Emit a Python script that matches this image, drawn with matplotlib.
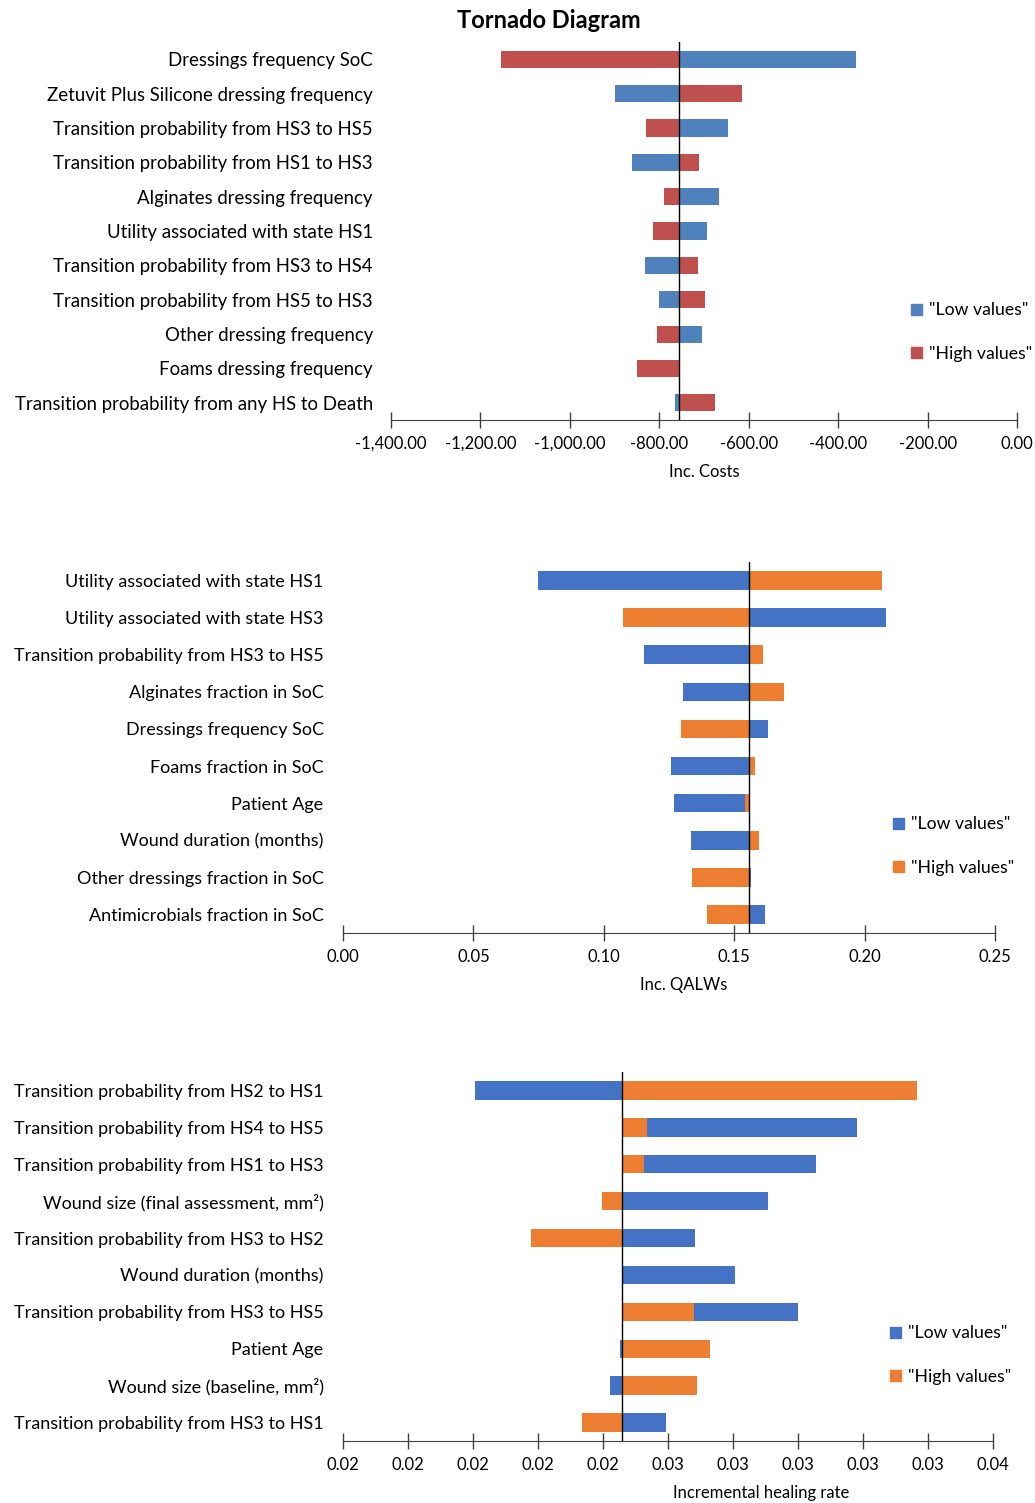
import numpy as np
import matplotlib.pyplot as plt
from matplotlib.ticker import FuncFormatter
from matplotlib.patches import Patch

plt.rcParams['font.family'] = ['Lato', 'DejaVu Sans']

# panel 1: incremental costs
cost_labels = ["Dressings frequency SoC", "Zetuvit Plus Silicone dressing frequency",
               "Transition probability from HS3 to HS5", "Transition probability from HS1 to HS3",
               "Alginates dressing frequency", "Utility associated with state HS1",
               "Transition probability from HS3 to HS4", "Transition probability from HS5 to HS3",
               "Other dressing frequency", "Foams dressing frequency",
               "Transition probability from any HS to Death"]
cost_base = -756.0
cost_low = [-360, -900, -647, -860, -667, -693, -832, -800, -705, -756, -764]
cost_high = [-1154, -616, -829, -711, -790, -814, -714, -698, -804, -850, -676]
cost_ticks = [-1400, -1200, -1000, -800, -600, -400, -200, 0]

# panel 2: incremental QALWs
qalw_labels = ["Utility associated with state HS1", "Utility associated with state HS3",
               "Transition probability from HS3 to HS5", "Alginates fraction in SoC",
               "Dressings frequency SoC", "Foams fraction in SoC", "Patient Age",
               "Wound duration (months)", "Other dressings fraction in SoC",
               "Antimicrobials fraction in SoC"]
qalw_base = 0.1557
qalw_low = [0.0748, 0.2083, 0.1154, 0.1303, 0.1630, 0.1258, 0.1270, 0.1335, 0.1566, 0.1620]
qalw_high = [0.2066, 0.1073, 0.1609, 0.1690, 0.1297, 0.1578, 0.1542, 0.1595, 0.1337, 0.1396]
qalw_ticks = [0.0, 0.05, 0.10, 0.15, 0.20, 0.25]

# panel 3: incremental healing rate
heal_labels = ["Transition probability from HS2 to HS1", "Transition probability from HS4 to HS5",
               "Transition probability from HS1 to HS3", "Wound size (final assessment, mm²)",
               "Transition probability from HS3 to HS2", "Wound duration (months)",
               "Transition probability from HS3 to HS5", "Patient Age",
               "Wound size (baseline, mm²)", "Transition probability from HS3 to HS1"]
heal_base = 0.02457
heal_low = [0.02006, 0.03180, 0.03055, 0.02907, 0.02684, 0.02806, 0.03001, 0.02453, 0.02423, 0.02594]
heal_high = [0.03365, 0.02536, 0.02526, 0.02398, 0.02177, 0.02457, 0.02679, 0.02729, 0.02688, 0.02334]
heal_ticks = [0.016, 0.018, 0.020, 0.022, 0.024, 0.026, 0.028, 0.030, 0.032, 0.034, 0.036]

W, H = 1035, 1503
fig = plt.figure(figsize=(W / 100, H / 100), dpi=100)
fig.patch.set_facecolor('white')


def tornado(rect, labels, base, low, high, ticks, fmt, xlabel, xlab_x, c_low, c_high, leg_xy,
            ypad, ysize):
    l, t, r, b = rect
    ax = fig.add_axes([l / W, 1 - b / H, (r - l) / W, (b - t) / H])
    n = len(labels)
    y = np.arange(n)
    low = np.array(low)
    high = np.array(high)
    ax.barh(y, low - base, left=base, height=0.5, color=c_low, edgecolor='none')
    ax.barh(y, high - base, left=base, height=0.5, color=c_high, edgecolor='none')
    ax.axvline(base, color='black', lw=1)
    ax.set_ylim(n - 0.5, -0.5)
    ax.set_xlim(ticks[0], ticks[-1])
    ax.set_yticks(y)
    ax.set_yticklabels(labels, fontsize=ysize)
    ax.tick_params(axis='y', length=0, pad=ypad)
    ax.set_xticks(ticks)
    ax.xaxis.set_major_formatter(FuncFormatter(fmt))
    ax.tick_params(axis='x', direction='inout', length=11, width=1, color='#404040',
                   labelsize=12, pad=6)
    for s in ['top', 'right', 'left']:
        ax.spines[s].set_visible(False)
    ax.spines['bottom'].set_color('#404040')
    ax.set_xlabel(xlabel, fontsize=12)
    ax.xaxis.set_label_coords((xlab_x - l) / (r - l), -44 / (b - t))
    handles = [Patch(color=c_low, label='"Low values"'), Patch(color=c_high, label='"High values"')]
    ax.legend(handles=handles, loc='center left', bbox_to_anchor=(leg_xy[0] / W, 1 - leg_xy[1] / H),
              bbox_transform=fig.transFigure, frameon=False, fontsize=12.7, handlelength=0.6,
              handleheight=0.6, handletextpad=0.4, labelspacing=1.55, borderpad=0, borderaxespad=0)
    return ax


tornado((391, 42, 1017, 420), cost_labels, cost_base, cost_low, cost_high, cost_ticks,
        lambda v, p: f"{v:,.2f}", "Inc. Costs", 704, '#4F81BD', '#C0504D', (911, 332), 13, 13.4)
tornado((343, 562, 995, 933), qalw_labels, qalw_base, qalw_low, qalw_high, qalw_ticks,
        lambda v, p: f"{v:.2f}", "Inc. QALWs", 684, '#4472C4', '#ED7D31', (893, 846), 14, 13)
tornado((343, 1072, 993, 1441), heal_labels, heal_base, heal_low, heal_high, heal_ticks,
        lambda v, p: f"{v:.2f}", "Incremental healing rate", 761, '#4472C4', '#ED7D31', (890, 1355), 14, 13)

fig.text(549 / W, 1 - 20 / H, "Tornado Diagram", ha='center', va='center', fontsize=17, fontweight='bold')

fig.savefig('out.png', dpi=100)
